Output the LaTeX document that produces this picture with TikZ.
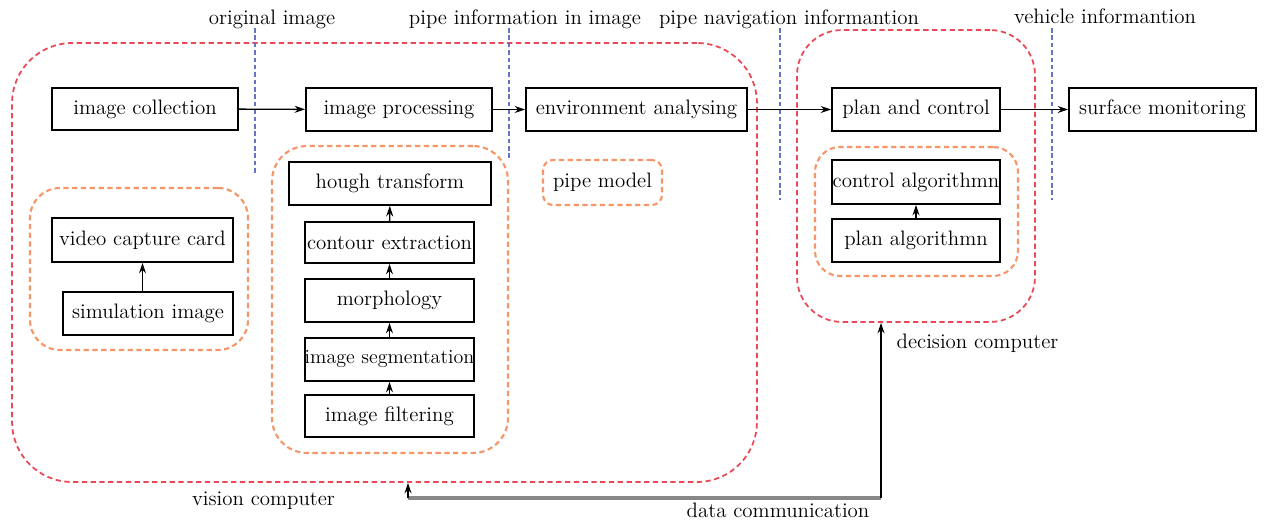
\documentclass[tikz,border=0pt]{standalone}
\usetikzlibrary{arrows.meta}
\definecolor{vred}{RGB}{234,72,86}
\definecolor{vorg}{RGB}{246,150,104}
\definecolor{vblu}{RGB}{104,114,200}
\definecolor{vgry}{RGB}{135,135,135}
\tikzset{
  box/.style={draw, line width=1pt, inner sep=0pt, align=center, font=\fontsize{11.9}{14}\selectfont},
  lbl/.style={inner sep=0pt, font=\fontsize{11.9}{14}\selectfont},
  redbox/.style={draw=vred, line width=1pt, dash pattern=on 3pt off 2pt, inner sep=0pt},
  orgbox/.style={draw=vorg, line width=1.2pt, dash pattern=on 3pt off 2pt, inner sep=0pt},
  blueline/.style={draw=vblu, line width=1.4pt, dash pattern=on 2.6pt off 1.6pt},
  arr/.style={-{Stealth[length=6pt,width=4pt]}, line width=0.8pt},
}
\begin{document}
\begin{tikzpicture}[x=0.02cm,y=-0.02cm]
\useasboundingbox[fill=white] (0,0) rectangle (1273,521);
% big dashed containers
\node[redbox, rounded corners=1.2cm, minimum width=14.9cm, minimum height=8.78cm] (vis) at (384.5,262.5) {};
\node[redbox, rounded corners=0.9cm, minimum width=4.76cm, minimum height=5.84cm] (dec) at (916,176) {};
\node[orgbox, rounded corners=0.6cm, minimum width=4.36cm, minimum height=3.24cm] (g1) at (139,269) {};
\node[orgbox, rounded corners=0.7cm, minimum width=4.72cm, minimum height=6.14cm] (g2) at (390,299.5) {};
\node[orgbox, rounded corners=0.5cm, minimum width=4.06cm, minimum height=2.58cm] (g3) at (916.5,211.5) {};
\node[orgbox, rounded corners=0.2cm, minimum width=2.38cm, minimum height=0.9cm, font=\fontsize{11.9}{14}\selectfont] (pm) at (602.5,182.5) {pipe model};
% blue separators
\coordinate (b1t) at (255,28); \coordinate (b1b) at (255,175);
\coordinate (b2t) at (509,28); \coordinate (b2b) at (509,160);
\coordinate (b3t) at (780,28); \coordinate (b3b) at (780,200);
\coordinate (b4t) at (1052,28); \coordinate (b4b) at (1052,200);
\draw[blueline] (b1t) -- (b1b);
\draw[blueline] (b2t) -- (b2b);
\draw[blueline] (b3t) -- (b3b);
\draw[blueline] (b4t) -- (b4b);
% top labels
\node[lbl] (l1) at (272,19) {original image};
\node[lbl] (l2) at (525,19) {pipe information in image};
\node[lbl] (l3) at (789,19) {pipe navigation informantion};
\node[lbl] (l4) at (1105,16) {vehicle informantion};
% main row
\node[box, minimum width=3.72cm, minimum height=0.84cm] (coll) at (145,109) {image collection};
\node[box, minimum width=3.72cm, minimum height=0.86cm] (proc) at (399,109.5) {image processing};
\node[box, minimum width=4.42cm, minimum height=0.86cm] (env) at (636.5,109.5) {environment analysing};
\node[box, minimum width=3.36cm, minimum height=0.86cm] (plan) at (916,109.5) {plan and control};
\node[box, minimum width=3.74cm, minimum height=0.86cm] (surf) at (1162.5,109.5) {surface monitoring};
% left group
\node[box, minimum width=3.62cm, minimum height=0.88cm] (video) at (142.5,240) {video capture card};
\node[box, minimum width=3.4cm, minimum height=0.86cm] (sim) at (148,313.5) {simulation image};
% middle group
\node[box, minimum width=4.04cm, minimum height=0.86cm] (hough) at (390,183.5) {hough transform};
\node[box, minimum width=3.38cm, minimum height=0.82cm] (cont) at (389.5,242.5) {contour extraction};
\node[box, minimum width=3.38cm, minimum height=0.86cm] (morph) at (389.5,300.5) {morphology};
\node[box, minimum width=3.38cm, minimum height=0.86cm, font=\fontsize{11.4}{14}\selectfont] (seg) at (389.5,359.5) {image segmentation};
\node[box, minimum width=3.38cm, minimum height=0.84cm] (filt) at (389.5,416) {image filtering};
% right group
\node[box, minimum width=3.36cm, minimum height=0.88cm] (ctrl) at (916,182) {control algorithmn};
\node[box, minimum width=3.36cm, minimum height=0.86cm] (palg) at (916,240.5) {plan algorithmn};
% group labels
\node[lbl] (ldec) at (977.5,343) {decision computer};
\node[lbl] (lvis) at (263.5,501) {vision computer};
\node[lbl] (ldc) at (778,510) {data communication};
% arrows
\draw[arr] (coll) -- (proc);
\draw[arr] (proc) -- (env);
\draw[arr] (env) -- (plan);
\draw[arr] (plan) -- (surf);
\draw[arr] (sim.north -| video) -- (video);
\draw[arr] (filt) -- (seg);
\draw[arr] (seg) -- (morph);
\draw[arr] (morph) -- (cont);
\draw[arr] (cont) -- (hough);
\draw[arr] (palg) -- (ctrl);
% data communication
\coordinate (dcL) at (408,498);
\coordinate (dcR) at (881,498);
\draw[vgry, line width=2pt] (dcL) -- (dcR);
\draw[arr] (dcL) -- (vis.south -| dcL);
\draw[arr] (dcR) -- (dec.south -| dcR);
\end{tikzpicture}
\end{document}
